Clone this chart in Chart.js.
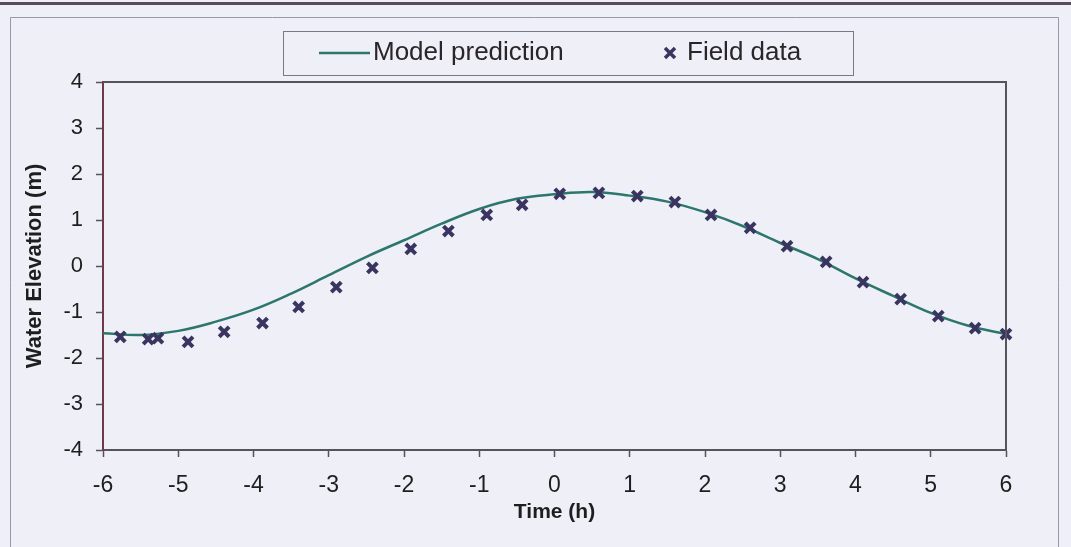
<!DOCTYPE html>
<html>
<head>
<meta charset="UTF-8">
<title>Water Elevation</title>
<script src="https://cdn.jsdelivr.net/npm/chart.js"></script>
<style>
  * { margin: 0; padding: 0; box-sizing: border-box; }
  body { background: #efeff7; width: 1071px; height: 547px; overflow: hidden; }
  #wrap { width: 1071px; height: 547px; }
</style>
</head>
<body>
<div id="wrap"><canvas id="chart" width="1071" height="547"></canvas></div>
<script>
// field observations (h, m)
const fieldTime = [-5.77, -5.40, -5.27, -4.87, -4.39, -3.88, -3.40, -2.90, -2.42, -1.91, -1.41, -0.90, -0.43,
                   0.07, 0.59, 1.10, 1.60, 2.08, 2.60, 3.09, 3.61, 4.10, 4.60, 5.10, 5.59, 6.00];
const fieldElev = [-1.54, -1.59, -1.57, -1.65, -1.43, -1.24, -0.89, -0.46, -0.04, 0.37, 0.76, 1.11, 1.33,
                   1.57, 1.59, 1.52, 1.39, 1.11, 0.83, 0.43, 0.09, -0.35, -0.72, -1.09, -1.35, -1.48];

// model curve (h, m)
const modelTime = [-6, -5.5, -5, -4.5, -4, -3.5, -3, -2.5, -2, -1.5, -1, -0.5, 0,
                   0.5, 1, 1.5, 2, 2.5, 3, 3.5, 4, 4.5, 5, 5.5, 6];
const modelElev = [-1.46, -1.50, -1.41, -1.21, -0.95, -0.60, -0.20, 0.20, 0.56, 0.92, 1.24, 1.46, 1.56,
                   1.61, 1.53, 1.40, 1.17, 0.87, 0.50, 0.15, -0.27, -0.65, -1.02, -1.30, -1.48];

const xTicks = [-6, -5, -4, -3, -2, -1, 0, 1, 2, 3, 4, 5, 6];
const yTicks = [-4, -3, -2, -1, 0, 1, 2, 3, 4];

const FONT = "'Liberation Sans', Arial, sans-serif";
const lineColor = '#2d766c';
const markColor = '#3a3560';

// background + frame around the whole picture
const framePlugin = {
  id: 'frame',
  beforeDraw(chart) {
    const { ctx, width, height } = chart;
    ctx.save();
    ctx.fillStyle = '#efeff7';
    ctx.fillRect(0, 0, width, height);
    ctx.fillStyle = '#5a4c54';
    ctx.fillRect(0, 2, width, 3);
    ctx.strokeStyle = '#9a98a4';
    ctx.lineWidth = 1;
    ctx.beginPath();
    ctx.moveTo(10.5, height);
    ctx.lineTo(10.5, 17.5);
    ctx.lineTo(1058.5, 17.5);
    ctx.lineTo(1058.5, height);
    ctx.stroke();
    ctx.restore();
  },
  afterDatasetsDraw(chart) {
    // top and right sides of the plot box
    const { ctx, chartArea: a } = chart;
    ctx.save();
    ctx.strokeStyle = '#55535c';
    ctx.lineWidth = 2;
    ctx.beginPath();
    ctx.moveTo(a.left, a.top);
    ctx.lineTo(a.right, a.top);
    ctx.lineTo(a.right, a.bottom);
    ctx.stroke();
    ctx.restore();
  }
};

// boxed legend at the top
const legendBox = {
  id: 'legendBox',
  afterDraw(chart) {
    const { ctx } = chart;
    const ds = chart.data.datasets;
    ctx.save();
    ctx.strokeStyle = '#7a7880';
    ctx.lineWidth = 1;
    ctx.strokeRect(283.5, 31.5, 570, 44);
    const y = 53;
    ctx.strokeStyle = lineColor;
    ctx.lineWidth = 2.5;
    ctx.beginPath();
    ctx.moveTo(319, y);
    ctx.lineTo(370, y);
    ctx.stroke();
    ctx.fillStyle = '#2a2528';
    ctx.font = '26px ' + FONT;
    ctx.textBaseline = 'middle';
    ctx.fillText(ds[0].label, 373, y);
    // cross marker
    ctx.strokeStyle = markColor;
    ctx.lineWidth = 3.5;
    const mx = 670, r = 5;
    ctx.beginPath();
    ctx.moveTo(mx - r, y - r); ctx.lineTo(mx + r, y + r);
    ctx.moveTo(mx - r, y + r); ctx.lineTo(mx + r, y - r);
    ctx.stroke();
    ctx.fillText(ds[1].label, 687, y);
    ctx.restore();
  }
};

new Chart(document.getElementById('chart'), {
  type: 'scatter',
  data: {
    datasets: [
      {
        label: 'Model prediction',
        data: modelTime.map((t, i) => ({ x: t, y: modelElev[i] })),
        showLine: true,
        borderColor: lineColor,
        borderWidth: 2.5,
        pointRadius: 0,
        tension: 0.4,
        order: 2
      },
      {
        label: 'Field data',
        data: fieldTime.map((t, i) => ({ x: t, y: fieldElev[i] })),
        pointStyle: 'crossRot',
        pointRadius: 7,
        pointBorderWidth: 4,
        borderColor: markColor,
        backgroundColor: markColor,
        clip: false,
        order: 1
      }
    ]
  },
  options: {
    responsive: false,
    animation: false,
    layout: { padding: { left: 0, right: 65, top: 82, bottom: 0 } },
    plugins: { legend: { display: false }, tooltip: { enabled: false } },
    scales: {
      x: {
        type: 'linear',
        min: -6, max: 6,
        afterBuildTicks: s => { s.ticks = xTicks.map(v => ({ value: v })); },
        afterFit: s => { s.height = 97; },
        grid: { drawOnChartArea: false, tickLength: 7, tickColor: '#55535c', tickWidth: 1.5 },
        border: { color: '#55535c', width: 2 },
        ticks: { color: '#1e1e1e', font: { family: FONT, size: 23 }, padding: 15 },
        title: {
          display: true, text: 'Time (h)', color: '#1e1e1e',
          font: { family: FONT, size: 21, weight: 'bold' },
          padding: { top: 0, bottom: 22 }
        }
      },
      y: {
        min: -4, max: 4,
        afterBuildTicks: s => { s.ticks = yTicks.map(v => ({ value: v })); },
        afterFit: s => { s.width = 103; },
        grid: { drawOnChartArea: false, tickLength: 7, tickColor: '#55535c', tickWidth: 1.5 },
        border: { color: '#6e3a48', width: 2 },
        ticks: { color: '#1e1e1e', font: { family: FONT, size: 22 }, padding: 13 },
        title: {
          display: true, text: 'Water Elevation (m)', color: '#1e1e1e',
          font: { family: FONT, size: 22, weight: 'bold' },
          padding: { top: 22, bottom: 0 }
        }
      }
    }
  },
  plugins: [framePlugin, legendBox]
});
</script>
</body>
</html>
